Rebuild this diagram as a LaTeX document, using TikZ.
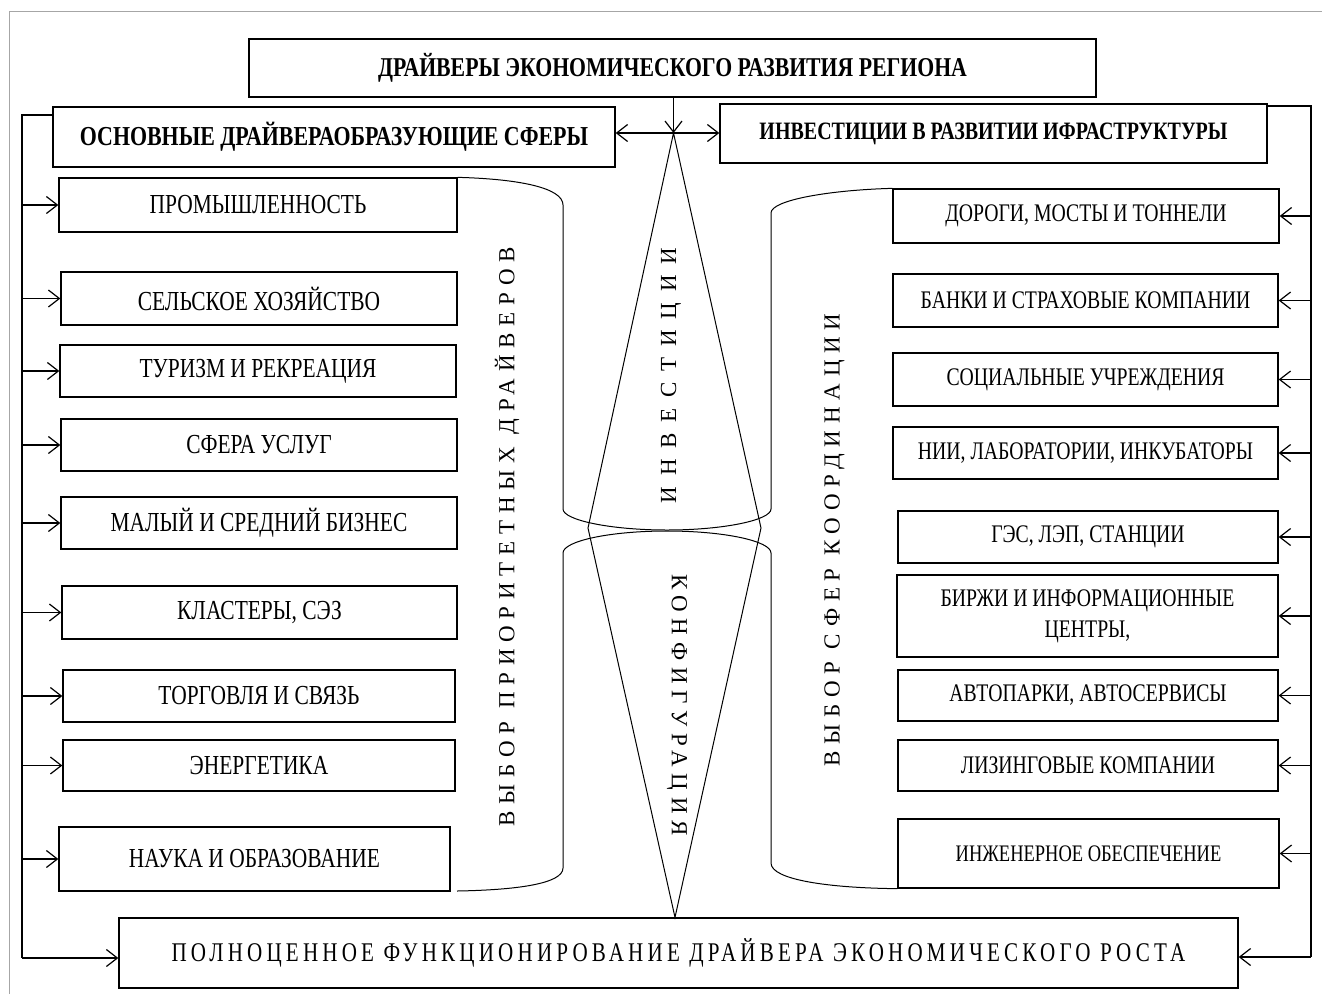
\documentclass[tikz,border=0pt]{standalone}
\usepackage{fontspec}
\setmainfont{Liberation Serif}
\newfontfamily\condfont[FakeStretch=0.78]{Liberation Serif}
\newfontfamily\boldcond[FakeStretch=0.8]{Liberation Serif Bold}
\newfontfamily\spacedfont[FakeStretch=0.78,LetterSpace=15.5]{Liberation Serif}
\newfontfamily\rotfont[LetterSpace=29.5]{Liberation Serif}
\newfontfamily\rotwidefont[LetterSpace=47]{Liberation Serif}
\usetikzlibrary{arrows.meta}
\tikzset{
  box/.style={draw, line width=1.3pt, inner sep=0pt, align=center,
    font=\condfont\fontsize{27.5}{30}\selectfont},
  rbox/.style={box, font=\condfont\fontsize{25.3}{28}\selectfont},
  hdr/.style={box, font=\boldcond\fontsize{27.2}{30}\selectfont},
  conn/.style={line width=1.2pt},
  tip/.tip={Straight Barb[length=11pt,width=17pt,line width=1.2pt]},
  arr/.style={conn, -tip},
  curve/.style={line width=1pt},
  rottext/.style={inner sep=0pt, font=\rotfont\fontsize{23}{26}\selectfont},
}
\begin{document}
\begin{tikzpicture}[x=1pt,y=-1pt]
\useasboundingbox (0,0) rectangle (1322,994);
% outer frame
\draw[gray!70, line width=1pt] (9,994) -- (9,11) -- (1322,11);

% headers
\node[hdr, minimum width=847pt, minimum height=58pt] (title) at (672.5,68) {ДРАЙВЕРЫ ЭКОНОМИЧЕСКОГО РАЗВИТИЯ РЕГИОНА};
\node[hdr, minimum width=562pt, minimum height=60pt, font=\boldcond\fontsize{27.4}{30}\selectfont] (lhdr) at (334,137) {ОСНОВНЫЕ ДРАЙВЕРАОБРАЗУЮЩИЕ СФЕРЫ};
\node[hdr, minimum width=547pt, minimum height=59pt, font=\boldcond\fontsize{25}{28}\selectfont] (rhdr) at (993.5,133.5) {ИНВЕСТИЦИИ В РАЗВИТИИ ИФРАСТРУКТУРЫ};

% left boxes
\node[box, minimum width=398pt, minimum height=54pt] (L1) at (258,205) {ПРОМЫШЛЕННОСТЬ};
\node[box, minimum width=396pt, minimum height=53pt] (L2) at (259,298.5) {СЕЛЬСКОЕ ХОЗЯЙСТВО};
\node[box, minimum width=396pt, minimum height=52pt] (L3) at (258,371) {ТУРИЗМ И РЕКРЕАЦИЯ};
\node[box, minimum width=396pt, minimum height=52pt] (L4) at (259,445) {СФЕРА УСЛУГ};
\node[box, minimum width=396pt, minimum height=52pt] (L5) at (259,523) {МАЛЫЙ И СРЕДНИЙ БИЗНЕС};
\node[box, minimum width=395pt, minimum height=53pt] (L6) at (259.5,612.5) {КЛАСТЕРЫ, СЭЗ};
\node[box, minimum width=392pt, minimum height=52pt] (L7) at (259,696) {ТОРГОВЛЯ И СВЯЗЬ};
\node[box, minimum width=392pt, minimum height=51pt] (L8) at (259,765.5) {ЭНЕРГЕТИКА};
\node[box, minimum width=391pt, minimum height=64pt] (L9) at (254.5,859) {НАУКА И ОБРАЗОВАНИЕ};

% right boxes
\node[rbox, minimum width=386pt, minimum height=54pt] (R1) at (1086,216) {ДОРОГИ, МОСТЫ И ТОННЕЛИ};
\node[rbox, minimum width=385pt, minimum height=53pt] (R2) at (1085.5,300.5) {БАНКИ И СТРАХОВЫЕ КОМПАНИИ};
\node[rbox, minimum width=385pt, minimum height=53pt] (R3) at (1085.5,379.5) {СОЦИАЛЬНЫЕ УЧРЕЖДЕНИЯ};
\node[rbox, minimum width=385pt, minimum height=52pt] (R4) at (1085.5,453) {НИИ, ЛАБОРАТОРИИ, ИНКУБАТОРЫ};
\node[rbox, minimum width=380pt, minimum height=52pt] (R5) at (1088,537) {ГЭС, ЛЭП, СТАНЦИИ};
\node[rbox, minimum width=381pt, minimum height=82pt] (R6) at (1087.5,616) {БИРЖИ И ИНФОРМАЦИОННЫЕ\\[3pt]ЦЕНТРЫ,};
\node[rbox, minimum width=380pt, minimum height=51pt] (R7) at (1088,695.5) {АВТОПАРКИ, АВТОСЕРВИСЫ};
\node[rbox, minimum width=380pt, minimum height=51pt] (R8) at (1088,765.5) {ЛИЗИНГОВЫЕ КОМПАНИИ};
\node[box, minimum width=381pt, minimum height=69pt, font=\condfont\fontsize{23.7}{27}\selectfont] (R9) at (1088.5,853.5) {ИНЖЕНЕРНОЕ ОБЕСПЕЧЕНИЕ};

% bottom box
\node[box, minimum width=1119pt, minimum height=70pt, font=\spacedfont\fontsize{27}{30}\selectfont] (bottom) at (678.5,953) {ПОЛНОЦЕННОЕ ФУНКЦИОНИРОВАНИЕ ДРАЙВЕРА ЭКОНОМИЧЕСКОГО РОСТА};

% central arrows
\coordinate (apex) at (673.5,133);
\draw[arr] (title.south -| apex) -- (apex);
\draw[conn, tip-tip] (lhdr.east |- apex) -- (rhdr.west |- apex);

% diamond
\coordinate (dl) at (588,528);
\coordinate (dr) at (761,528);
\coordinate (dbot) at (675,918);
\draw[curve] (apex) -- (dl) -- (bottom.north -| dbot) -- (dr) -- cycle;

% cylinder-like curves
\draw[curve] (L1.north east) .. controls (520,179) and (563,188) .. (563,205)
  -- (563,509) .. controls (563,520) and (610,530) .. (667,530)
  .. controls (724,530) and (771,520) .. (771,509)
  -- (771,213) .. controls (771,200) and (830,190) .. (R1.north west);
\draw[curve] (457,891) .. controls (515,890) and (563,884) .. (563,868)
  -- (563,553) .. controls (563,541) and (610,531) .. (667,531)
  .. controls (724,531) and (771,541) .. (771,553)
  -- (771,863) .. controls (771,880) and (830,888) .. (R9.south west);

% rotated texts
\node[rottext, rotate=90] (t1) at (507,536.5) {ВЫБОР ПРИОРИТЕТНЫХ ДРАЙВЕРОВ};
\node[rottext, rotate=90, font=\rotwidefont\fontsize{23}{26}\selectfont] (t2) at (671,375.5) {ИНВЕСТИЦИИ};
\node[rottext, rotate=-90] (t3) at (677,705) {КОНФИГУРАЦИЯ};
\node[rottext, rotate=90] (t4) at (834.5,540) {ВЫБОР СФЕР КООРДИНАЦИИ};

% left bus
\coordinate (lb0) at (22,115);
\coordinate (lbB) at (22,958);
\draw[conn] (lhdr.west |- lb0) -- (lb0) -- (lbB);
\foreach \n in {L1,L2,L3,L4,L5,L6,L7,L8,L9}
  \draw[arr] (lb0 |- \n.west) -- (\n.west);
\draw[arr] (lbB) -- (lbB -| bottom.west);

% right bus
\coordinate (rb0) at (1311,106);
\coordinate (rbB) at (1311,957);
\draw[conn] (rhdr.east |- rb0) -- (rb0) -- (rbB);
\foreach \n in {R1,R2,R3,R4,R5,R6,R7,R8,R9}
  \draw[arr] (rb0 |- \n.east) -- (\n.east);
\draw[arr] (rbB) -- (rbB -| bottom.east);
\end{tikzpicture}
\end{document}
